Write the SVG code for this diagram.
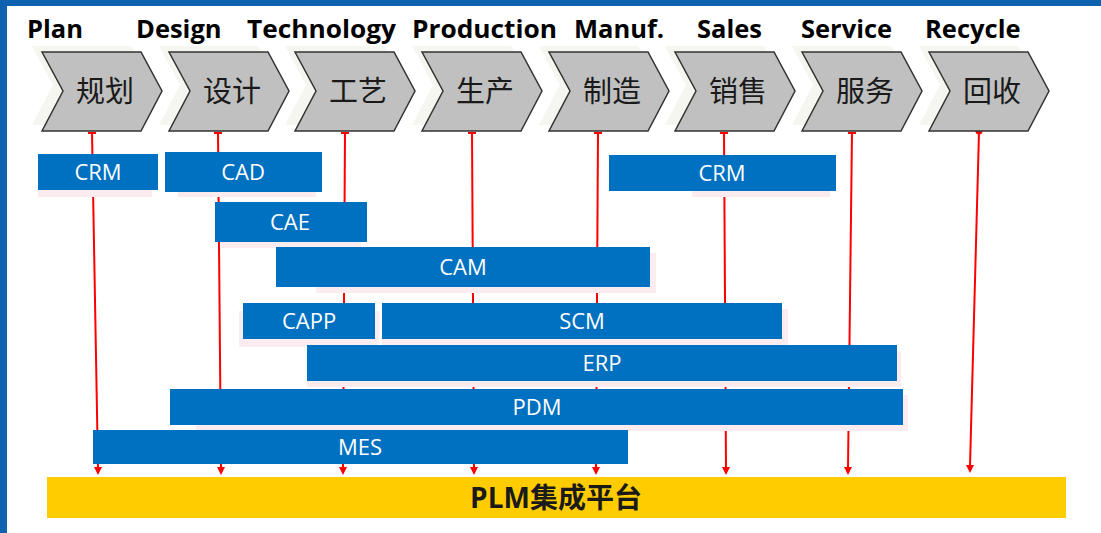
<svg xmlns="http://www.w3.org/2000/svg" width="1101" height="533" viewBox="0 0 1101 533">
<defs>
<style>
.en{font-family:"Open Sans","Liberation Sans",sans-serif;font-weight:bold;font-size:25.5px;fill:#000}
.cn{font-family:"Noto Sans CJK SC",sans-serif;font-size:29px;fill:#1a1a1a;text-anchor:middle}
.chev{fill:#c0c0c0;stroke:#333;stroke-width:1.5}
.chsh{fill:#f5f6f0}
.bar{fill:#0070c0}
.bsh{fill:#fdecef}
.bt{font-family:"Open Sans","Liberation Sans",sans-serif;font-size:22px;fill:#fff;text-anchor:middle}
.ln{stroke:#ff0000;stroke-width:2;fill:none}
.tk{stroke:#ff0000;stroke-width:2}
.ah{fill:#ff0000}
</style>
<polygon id="chv" points="0,0 99,0 120,39 99,79 0,79 21,39"/>
</defs>
<rect x="0" y="0" width="1101" height="533" fill="#0e62b0"/>
<rect x="7" y="6" width="1094" height="527" fill="#ffffff"/>

<g id="labels">
<text class="en" x="27" y="38">Plan</text>
<text class="en" x="136" y="38">Design</text>
<text class="en" x="247" y="38" textLength="149" lengthAdjust="spacingAndGlyphs">Technology</text>
<text class="en" x="412" y="38" textLength="145" lengthAdjust="spacingAndGlyphs">Production</text>
<text class="en" x="574" y="38">Manuf.</text>
<text class="en" x="697" y="38">Sales</text>
<text class="en" x="801" y="38">Service</text>
<text class="en" x="925" y="38">Recycle</text>
</g>

<g id="connectors">
<line class="ln" x1="92" y1="132" x2="98" y2="468"/>
<line class="ln" x1="218" y1="132" x2="221" y2="468"/>
<line class="ln" x1="345" y1="132" x2="343" y2="468"/>
<line class="ln" x1="472" y1="132" x2="474" y2="468"/>
<line class="ln" x1="598" y1="132" x2="596" y2="468"/>
<line class="ln" x1="724" y1="132" x2="726" y2="468"/>
<line class="ln" x1="852" y1="132" x2="848" y2="468"/>
<line class="ln" x1="979" y1="132" x2="970" y2="466"/>
<line class="tk" x1="88" y1="133" x2="96" y2="133"/>
<line class="tk" x1="214" y1="133" x2="222" y2="133"/>
<line class="tk" x1="341" y1="133" x2="349" y2="133"/>
<line class="tk" x1="468" y1="133" x2="476" y2="133"/>
<line class="tk" x1="594" y1="133" x2="602" y2="133"/>
<line class="tk" x1="720" y1="133" x2="728" y2="133"/>
<line class="tk" x1="848" y1="133" x2="856" y2="133"/>
<circle cx="979" cy="131" r="3.5" fill="#ff0000"/>
<polygon class="ah" points="94,467 102,467 98,475"/>
<polygon class="ah" points="217,467 225,467 221,475"/>
<polygon class="ah" points="339,467 347,467 343,475"/>
<polygon class="ah" points="470,467 478,467 474,475"/>
<polygon class="ah" points="592,467 600,467 596,475"/>
<polygon class="ah" points="722,467 730,467 726,475"/>
<polygon class="ah" points="844,467 852,467 848,475"/>
<polygon class="ah" points="966,465 974,465 970,473"/>
</g>

<g id="chevrons">
<g id="n-plan"><use href="#chv" class="chsh" x="32" y="46"/><use href="#chv" class="chev" x="42" y="52"/><text class="cn" x="105" y="102">规划</text></g>
<g id="n-design"><use href="#chv" class="chsh" x="159" y="46"/><use href="#chv" class="chev" x="169" y="52"/><text class="cn" x="232" y="102">设计</text></g>
<g id="n-tech"><use href="#chv" class="chsh" x="285" y="46"/><use href="#chv" class="chev" x="295" y="52"/><text class="cn" x="358" y="102">工艺</text></g>
<g id="n-prod"><use href="#chv" class="chsh" x="412" y="46"/><use href="#chv" class="chev" x="422" y="52"/><text class="cn" x="485" y="102">生产</text></g>
<g id="n-manuf"><use href="#chv" class="chsh" x="539" y="46"/><use href="#chv" class="chev" x="549" y="52"/><text class="cn" x="612" y="102">制造</text></g>
<g id="n-sales"><use href="#chv" class="chsh" x="665" y="46"/><use href="#chv" class="chev" x="675" y="52"/><text class="cn" x="738" y="102">销售</text></g>
<g id="n-service"><use href="#chv" class="chsh" x="792" y="46"/><use href="#chv" class="chev" x="802" y="52"/><text class="cn" x="865" y="102">服务</text></g>
<g id="n-recycle"><use href="#chv" class="chsh" x="919" y="46"/><use href="#chv" class="chev" x="929" y="52"/><text class="cn" x="992" y="102">回收</text></g>
</g>

<g id="bars">
<g id="b-crm1"><rect class="bsh" x="38" y="160" width="114" height="37"/><rect class="bar" x="38" y="154" width="120" height="36"/><text class="bt" x="98" y="180">CRM</text></g>
<g id="b-cad"><rect class="bsh" x="178" y="160" width="138" height="37"/><rect class="bar" x="165" y="152" width="157" height="40"/><text class="bt" x="243" y="180">CAD</text></g>
<g id="b-crm2"><rect class="bsh" x="692" y="160" width="138" height="37"/><rect class="bar" x="609" y="155" width="227" height="36"/><text class="bt" x="722" y="181">CRM</text></g>
<g id="b-cae"><rect class="bsh" x="221" y="208" width="140" height="40"/><rect class="bar" x="215" y="202" width="152" height="40"/><text class="bt" x="290" y="230">CAE</text></g>
<g id="b-cam"><rect class="bsh" x="316" y="253" width="340" height="40"/><rect class="bar" x="276" y="247" width="374" height="40"/><text class="bt" x="463" y="275">CAM</text></g>
<g id="b-capp"><rect class="bsh" x="239" y="311" width="140" height="36"/><rect class="bar" x="243" y="303" width="132" height="36"/><text class="bt" x="309" y="329">CAPP</text></g>
<g id="b-scm"><rect class="bsh" x="382" y="309" width="406" height="36"/><rect class="bar" x="382" y="303" width="400" height="36"/><text class="bt" x="582" y="329">SCM</text></g>
<g id="b-erp"><rect class="bsh" x="307" y="351" width="594" height="36"/><rect class="bar" x="307" y="345" width="590" height="36"/><text class="bt" x="602" y="371">ERP</text></g>
<g id="b-pdm"><rect class="bsh" x="196" y="395" width="712" height="36"/><rect class="bar" x="170" y="389" width="733" height="36"/><text class="bt" x="537" y="415">PDM</text></g>
<g id="b-mes"><rect class="bar" x="93" y="430" width="535" height="34"/><text class="bt" x="360" y="455">MES</text></g>
</g>

<g id="plm">
<rect x="47" y="477" width="1019" height="41" fill="#ffcc00"/>
<text x="556" y="508" text-anchor="middle" font-family="'Open Sans','Noto Sans CJK SC',sans-serif" font-weight="bold" font-size="28" fill="#1a1a1a">PLM集成平台</text>
</g>
</svg>
